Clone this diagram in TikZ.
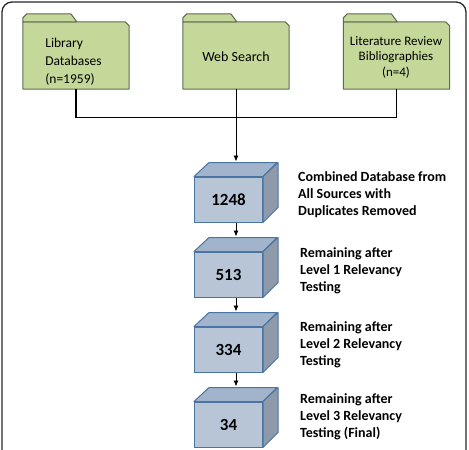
\documentclass[tikz,border=0pt]{standalone}
\usepackage{fontspec}
\setmainfont{Carlito}
\usetikzlibrary{arrows.meta}

\definecolor{foldergreen}{HTML}{C4D89A}
\definecolor{folderedge}{HTML}{5E6A55}
\definecolor{cubefront}{HTML}{B8C5D7}
\definecolor{cubetopc}{HTML}{A2B4CC}
\definecolor{cubeside}{HTML}{8E9AAA}
\definecolor{cubeedge}{HTML}{4A74A2}

\tikzset{
  folder/.style={minimum width=106pt, minimum height=67pt, inner sep=0pt},
  folderbox/.style={draw=folderedge, fill=foldergreen, line width=1pt, line join=round},
  foldertext/.style={font=\fontsize{13.5}{18}\selectfont},
  cube/.style={draw=cubeedge, fill=cubefront, line width=1pt, minimum width=68pt,
    minimum height=45pt, inner sep=0pt, font=\fontsize{17}{20}\selectfont\bfseries},
  cubeface/.style={draw=cubeedge, line width=1pt, line join=round},
  steplabel/.style={anchor=west, align=left, inner sep=0pt,
    font=\fontsize{14}{17}\selectfont\bfseries},
  joinline/.style={line width=1.3pt},
  flow/.style={-{Latex[length=6pt,width=5pt]}, line width=0.9pt},
}

% folder outline (body with cut corner + tab) around an empty node
\newcommand{\folder}[1]{%
  \filldraw[folderbox] (#1.south west) -- (#1.north west)
    -- ([xshift=-4pt]#1.north east) -- ([yshift=-4pt]#1.north east)
    -- (#1.south east) -- cycle;
  \filldraw[folderbox] (#1.north west) -- ++(0pt,4pt) -- ++(4pt,4pt)
    -- ++(44pt,0pt) -- ++(6pt,-8pt) -- cycle;
}
% top and right faces of a box node
\newcommand{\cubefaces}[1]{%
  \filldraw[cubeface, fill=cubetopc] (#1.north west) -- ++(15pt,14pt)
    -- ++(68pt,0pt) -- (#1.north east) -- cycle;
  \filldraw[cubeface, fill=cubeside] (#1.north east) -- ++(15pt,14pt)
    -- ++(0pt,-45pt) -- (#1.south east) -- cycle;
}

\begin{document}
\begin{tikzpicture}[x=1pt, y=-1pt]
  \useasboundingbox (0,0) rectangle (469,450);
  \draw[rounded corners=10pt, line width=1.3pt, draw=black!85] (2,2) rectangle (466,480);

  % sources
  \node[folder] (lib) at (76,55.5) {};
  \node[folder] (web) at (236,55.5) {};
  \node[folder] (lit) at (396.5,55.5) {};
  \folder{lib} \folder{web} \folder{lit}
  \node[foldertext, align=left] (libtext) at (73.5,62) {Library\\Databases\\(n=1959)};
  \node[foldertext, font=\fontsize{14}{18}\selectfont] (webtext) at (236,57) {Web Search};
  \node[foldertext, align=center, font=\fontsize{13}{15.5}\selectfont] (littext) at (396,57)
    {Literature Review\\Bibliographies\\(n=4)};

  % screening stages
  \node[cube] (c1) at (228.5,199.5) {1248};
  \node[cube] (c2) at (228.5,274.5) {513};
  \node[cube] (c3) at (228.5,349.5) {334};
  \node[cube] (c4) at (228.5,424.5) {34};
  \foreach \c in {c1,c2,c3,c4} {\cubefaces{\c}}

  \node[steplabel] (t1) at (298,195) {Combined Database from\\All Sources with\\Duplicates Removed};
  \node[steplabel] (t2) at (300,271) {Remaining after\\Level 1 Relevancy\\Testing};
  \node[steplabel] (t3) at (300,345) {Remaining after\\Level 2 Relevancy\\Testing};
  \node[steplabel] (t4) at (300,417) {Remaining after\\Level 3 Relevancy\\Testing (Final)};

  % connectors
  \draw[joinline] (lib.south) -- ++(0,28) -| (lit.south);
  \draw[flow] (web.south) -- ([xshift=7.5pt,yshift=15pt]c1.north);
  \draw[flow] ([xshift=7.5pt]c1.south) -- ([xshift=7.5pt,yshift=15pt]c2.north);
  \draw[flow] ([xshift=7.5pt]c2.south) -- ([xshift=7.5pt,yshift=15pt]c3.north);
  \draw[flow] ([xshift=7.5pt]c3.south) -- ([xshift=7.5pt,yshift=15pt]c4.north);
\end{tikzpicture}
\end{document}
